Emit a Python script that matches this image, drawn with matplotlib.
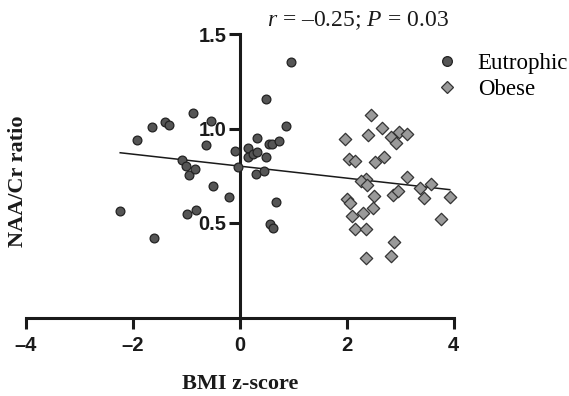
import numpy as np
import matplotlib
matplotlib.use("Agg")
import matplotlib.pyplot as plt
from matplotlib.lines import Line2D

plt.rcParams['mathtext.fontset'] = 'custom'
plt.rcParams['mathtext.it'] = 'Liberation Serif:italic'
plt.rcParams['mathtext.rm'] = 'Liberation Serif'

# ---- data ----
eut_x = [-2.23, -1.92, -1.64, -1.60, -1.39, -1.32, -1.07, -1.00, -0.94, -0.84,
         -0.99, -0.82, -0.86, -0.53, -0.63, -0.49, -0.19, -0.09, -0.02, 0.15,
         0.15, 0.26, 0.33, 0.32, 0.30, 0.46, 0.49, 0.49, 0.55, 0.60,
         0.74, 0.86, 0.957, 0.68, 0.57, 0.63]
eut_y = [0.563, 0.940, 1.006, 0.422, 1.034, 1.020, 0.832, 0.800, 0.756, 0.784,
         0.548, 0.569, 1.084, 1.040, 0.911, 0.697, 0.638, 0.879, 0.798, 0.899,
         0.851, 0.863, 0.951, 0.875, 0.759, 0.775, 0.847, 1.158, 0.916, 0.916,
         0.934, 1.012, 1.350, 0.609, 0.495, 0.475]

obe_x = [2.45, 2.66, 2.40, 1.98, 2.83, 2.99, 3.13, 2.92, 2.05, 2.16,
         2.53, 2.71, 2.36, 2.27, 2.38, 3.13, 3.37, 3.58, 3.93, 2.51,
         2.87, 2.96, 3.45, 2.00, 2.06, 2.49, 2.30, 2.11, 3.76, 2.15,
         2.36, 2.88, 2.37, 2.84]
obe_y = [1.071, 1.001, 0.966, 0.943, 0.957, 0.983, 0.971, 0.925, 0.839, 0.828,
         0.824, 0.851, 0.731, 0.722, 0.701, 0.742, 0.684, 0.706, 0.639, 0.643,
         0.648, 0.669, 0.631, 0.625, 0.604, 0.578, 0.551, 0.539, 0.520, 0.467,
         0.467, 0.398, 0.313, 0.327]

fit_slope = -0.0317
fit_intercept = 0.801

x_ticks = [-4, -2, 0, 2, 4]
x_tick_labels = ['\u20134', '\u20132', '0', '2', '4']
y_ticks = [0.5, 1.0, 1.5]
y_tick_labels = ['0.5', '1.0', '1.5']

# ---- figure ----
W, H = 569, 396
fig = plt.figure(figsize=(W / 100, H / 100), dpi=100)
ax = fig.add_axes([25.5 / W, 1 - 317.5 / H, (453.5 - 25.5) / W, (317.5 - 34) / H])
ax.set_xlim(-4, 4)
ax.set_ylim(0, 1.5)

# regression line over data range
all_x = np.array(eut_x + obe_x)
lx = np.array([all_x.min(), all_x.max()])
ax.plot(lx, fit_intercept + fit_slope * lx, color='#1a1a1a', lw=1.1, zorder=2)

ax.scatter(eut_x, eut_y, s=40, marker='o', facecolor='#555555', edgecolor='#222222',
           linewidths=0.9, zorder=3, clip_on=False)
ax.scatter(obe_x, obe_y, s=40, marker='D', facecolor='#9a9a9a', edgecolor='#333333',
           linewidths=0.9, zorder=3, clip_on=False)

for s in ['top', 'right']:
    ax.spines[s].set_visible(False)
ax.spines['left'].set_position(('data', 0))
ax.spines['bottom'].set_position(('data', 0))
ax.spines['left'].set_bounds(0, 1.5)
ax.spines['bottom'].set_bounds(-4, 4)
for s in ['left', 'bottom']:
    ax.spines[s].set_linewidth(2.2)
    ax.spines[s].set_color('#1a1a1a')

ax.set_xticks(x_ticks)
ax.set_xticklabels(x_tick_labels)
ax.set_yticks(y_ticks)
ax.set_yticklabels(y_tick_labels)
ax.tick_params(axis='both', width=2.2, length=8, color='#1a1a1a', direction='out',
               labelsize=14.5)
ax.tick_params(axis='x', pad=5)
ax.tick_params(axis='y', pad=1.5)
for lab in ax.get_xticklabels() + ax.get_yticklabels():
    lab.set_fontfamily('Liberation Sans')
    lab.set_fontweight('bold')
    lab.set_color('#1a1a1a')

fig.text(240 / W, 1 - 384 / H, 'BMI z-score', family='Liberation Serif', weight='bold',
         fontsize=16, ha='center', va='center', color='#1a1a1a')
fig.text(18 / W, 1 - 181 / H, 'NAA/Cr ratio', family='Liberation Serif', weight='bold',
         fontsize=16, ha='center', va='center', rotation=90, color='#1a1a1a')

fig.text(267 / W, 1 - 21 / H, '$r$ = \u20130.25; $P$ = 0.03',
         family='Liberation Serif', fontsize=17, ha='left', va='center', color='#1a1a1a')

handles = [
    Line2D([], [], marker='o', ls='', markersize=7, markerfacecolor='#555555',
           markeredgecolor='#222222', markeredgewidth=0.9),
    Line2D([], [], marker='D', ls='', markersize=6, markerfacecolor='#9a9a9a',
           markeredgecolor='#333333', markeredgewidth=0.9),
]
leg = fig.legend(handles, ['Eutrophic', 'Obese'], loc='upper left',
                 bbox_to_anchor=(433 / W, 1 - 53 / H), frameon=False,
                 prop={'family': 'Liberation Serif', 'size': 16.5},
                 handlelength=1.2, handletextpad=0.75, labelspacing=0.2,
                 borderpad=0, borderaxespad=0)

fig.savefig('out.png', dpi=100)
